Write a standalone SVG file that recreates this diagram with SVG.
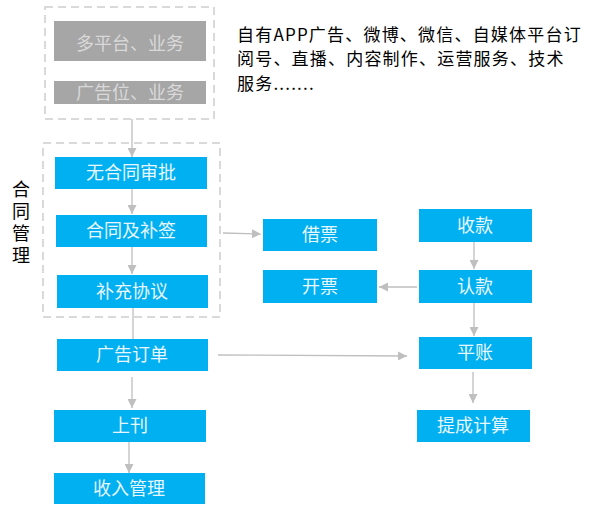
<svg xmlns="http://www.w3.org/2000/svg" width="598" height="513" viewBox="0 0 598 513">
<defs>
<marker id="ah" viewBox="0 0 10 10" refX="10" refY="5" markerWidth="9" markerHeight="9" markerUnits="userSpaceOnUse" orient="auto">
<path d="M0,0 L10,5 L0,10 z" fill="#BFBFBF"/>
</marker>
</defs>
<style>
.dash{fill:none;stroke:#D9D9D9;stroke-width:2;stroke-dasharray:8,5}
.gray{fill:#A6A6A6}
.blue{fill:#00B0F0}
.t{font-family:"Microsoft YaHei","Noto Sans CJK SC",sans-serif;font-size:18px;text-anchor:middle}
.gt{fill:#D9D9D9}
.bt{fill:#E8F6FF}
.conn line{stroke:#BFBFBF;stroke-width:1.3;fill:none}
.a{marker-end:url(#ah)}
.blk{font-family:"Microsoft YaHei","Noto Sans CJK SC",sans-serif;font-size:18px;fill:#000}
.note{font-family:"Microsoft YaHei","Noto Sans CJK SC",sans-serif;font-size:17px;letter-spacing:1.2px;fill:#000}
</style>
<rect width="598" height="513" fill="#FFFFFF"/>
<g id="group-top"><rect class="dash" x="45" y="7" width="169" height="112"/></g>
<g id="group-contract"><rect class="dash" x="43" y="143" width="177" height="174"/></g>
<g id="label-contract">
<text class="blk" x="21" y="180" style="writing-mode:vertical-rl" letter-spacing="4">合同管理</text>
</g>
<g id="note">
<text class="note"><tspan x="237" y="40.5">自有APP广告、微博、微信、自媒体平台订</tspan><tspan x="237" y="65.2">阅号、直播、内容制作、运营服务、技术</tspan><tspan x="237" y="89.9">服务.......</tspan></text>
</g>
<g class="conn" id="connectors">
<line x1="132" y1="119" x2="132" y2="157" class="a"/>
<line x1="132" y1="189" x2="132" y2="214" class="a"/>
<line x1="132" y1="247" x2="132" y2="274" class="a"/>
<line x1="133" y1="308" x2="133" y2="339"/>
<line x1="132" y1="377" x2="132" y2="408" class="a"/>
<line x1="129" y1="442" x2="129" y2="473" class="a"/>
<line x1="223" y1="233" x2="261" y2="234" class="a"/>
<line x1="474" y1="242" x2="474" y2="269" class="a"/>
<line x1="417" y1="287" x2="379" y2="287" class="a"/>
<line x1="474" y1="303" x2="474" y2="336" class="a"/>
<line x1="218" y1="355" x2="407" y2="356" class="a"/>
<line x1="473" y1="372" x2="473" y2="403" class="a"/>
</g>
<g id="n-duopingtai"><rect class="gray" x="54" y="21" width="152" height="40"/><text class="t gt" x="130" y="50">多平台、业务</text></g>
<g id="n-guanggaowei"><rect class="gray" x="54" y="81" width="152" height="23"/><text class="t gt" x="130" y="99">广告位、业务</text></g>
<g id="n-wuhetong"><rect class="blue" x="55" y="157" width="152" height="32"/><text class="t bt" x="131" y="179">无合同审批</text></g>
<g id="n-hetong"><rect class="blue" x="56" y="215" width="151" height="32"/><text class="t bt" x="131" y="237">合同及补签</text></g>
<g id="n-buchong"><rect class="blue" x="57" y="275" width="151" height="33"/><text class="t bt" x="132" y="298">补充协议</text></g>
<g id="n-dingdan"><rect class="blue" x="57" y="339" width="151" height="32"/><text class="t bt" x="132" y="361">广告订单</text></g>
<g id="n-shangkan"><rect class="blue" x="54" y="410" width="152" height="32"/><text class="t bt" x="130" y="432">上刊</text></g>
<g id="n-shouru"><rect class="blue" x="54" y="473" width="151" height="31"/><text class="t bt" x="129" y="495">收入管理</text></g>
<g id="n-jiepiao"><rect class="blue" x="263" y="219" width="114" height="32"/><text class="t bt" x="320" y="241">借票</text></g>
<g id="n-kaipiao"><rect class="blue" x="263" y="270" width="114" height="33"/><text class="t bt" x="320" y="293">开票</text></g>
<g id="n-shoukuan"><rect class="blue" x="419" y="209" width="113" height="33"/><text class="t bt" x="475" y="232">收款</text></g>
<g id="n-renkuan"><rect class="blue" x="419" y="270" width="113" height="33"/><text class="t bt" x="475" y="293">认款</text></g>
<g id="n-pingzhang"><rect class="blue" x="419" y="337" width="113" height="32"/><text class="t bt" x="475" y="359">平账</text></g>
<g id="n-ticheng"><rect class="blue" x="417" y="410" width="113" height="32"/><text class="t bt" x="473" y="432">提成计算</text></g>
</svg>
